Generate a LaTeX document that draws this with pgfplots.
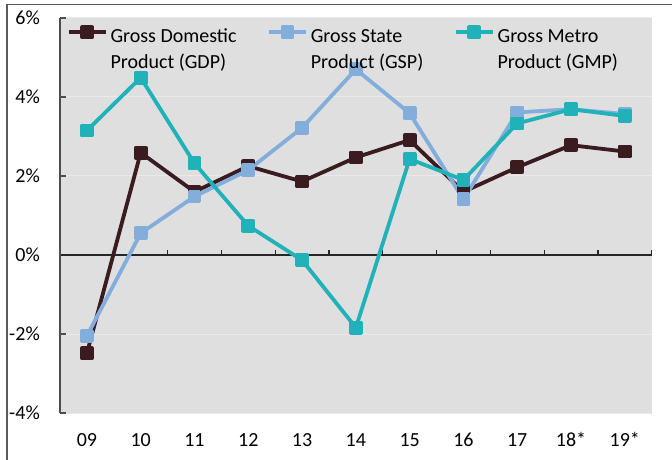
\documentclass[border=0pt]{standalone}
\usepackage{fontspec}
\setmainfont{Carlito}
\usepackage{pgfplots}
\pgfplotsset{compat=1.18}
\definecolor{gdp}{HTML}{3A1B20}
\definecolor{gsp}{HTML}{83AEDB}
\definecolor{gmp}{HTML}{21B1B9}
\definecolor{plotbg}{HTML}{DFDFDF}
\definecolor{gridc}{HTML}{E9E9E9}
\definecolor{axisgray}{HTML}{4D4D4D}
\definecolor{framegray}{HTML}{5A5A5A}
\begin{document}
\begin{tikzpicture}
\useasboundingbox (0pt,0pt) rectangle (672pt,-460pt);
\draw[framegray, line width=1.5pt] (6.8pt,-460pt) -- (6.8pt,-4.7pt) -- (672pt,-4.7pt);
\begin{axis}[
    at={(60pt,-413pt)}, anchor=south west,
    scale only axis, width=591.7pt, height=395pt,
    xmin=-0.5, xmax=10.5, ymin=-4, ymax=6,
    axis background/.style={fill=plotbg},
    axis line style={draw=none},
    xtick={0,...,10},
    xticklabels={09,10,11,12,13,14,15,16,17,18*,19*},
    ytick={-4,-2,0,2,4,6},
    yticklabels={-4\%,-2\%,0\%,2\%,4\%,6\%},
    xtick style={draw=none},
    ytick pos=left, tick align=inside, major tick length=6pt,
    ytick style={draw=axisgray, line width=1.3pt},
    ymajorgrids, grid style={color=gridc, line width=1pt},
    tick label style={font=\fontsize{20}{24}\selectfont, text=black},
    yticklabel style={anchor=east, inner sep=0pt, xshift=-20pt},
    xticklabel style={anchor=north, inner sep=0pt, text height=12.5pt, yshift=-21pt},
    clip=false,
    legend columns=3,
    legend cell align=left,
    legend style={at={(0.0115,0.985)}, anchor=north west, draw=none, fill=none,
        inner sep=0pt, outer sep=0pt,
        nodes={inner sep=0pt, font=\fontsize{20}{26}\selectfont},
        column sep=3pt,
        /tikz/every even column/.append style={column sep=30.5pt}},
    legend image code/.code={\draw[#1, mark repeat=2, mark phase=2]
        plot coordinates {(0pt,1.4pt)(18.5pt,1.4pt)(37pt,1.4pt)};},
    every axis plot/.append style={line width=3.8pt, line join=round,
        mark=square*, mark size=5pt, mark options={solid, line width=0.5pt}},
]
% zero line with category ticks, and the value axis line
\draw[color=black!85, line width=1.3pt] (axis cs:-0.5,0) -- (axis cs:10.5,0);
\pgfplotsinvokeforeach{0.5,1.5,2.5,3.5,4.5,5.5,6.5,7.5,8.5,9.5,10.5}{
    \draw[color=black!85, line width=1.2pt] (axis cs:#1,0) -- ([yshift=5pt]axis cs:#1,0);
}
\draw[axisgray, line width=1.5pt] (axis cs:-0.5,-4) -- (axis cs:-0.5,6);

\addplot[gdp, mark options={fill=gdp, draw=gdp}] coordinates {
    (0,-2.49) (1,2.59) (2,1.60) (3,2.25) (4,1.86) (5,2.47)
    (6,2.91) (7,1.60) (8,2.22) (9,2.78) (10,2.62)};
\addlegendentry{\begin{tabular}[t]{@{}l@{}}Gross Domestic\\Product (GDP)\end{tabular}}
\addplot[gsp, mark options={fill=gsp, draw=gsp}] coordinates {
    (0,-2.05) (1,0.55) (2,1.48) (3,2.15) (4,3.22) (5,4.70)
    (6,3.59) (7,1.41) (8,3.61) (9,3.69) (10,3.57)};
\addlegendentry{\begin{tabular}[t]{@{}l@{}}Gross State\\Product (GSP)\end{tabular}}
\addplot[gmp, mark options={fill=gmp, draw=gmp}] coordinates {
    (0,3.15) (1,4.49) (2,2.32) (3,0.74) (4,-0.13) (5,-1.84)
    (6,2.43) (7,1.90) (8,3.33) (9,3.69) (10,3.52)};
\addlegendentry{\begin{tabular}[t]{@{}l@{}}Gross Metro\\Product (GMP)\end{tabular}}
\end{axis}
\end{tikzpicture}
\end{document}
